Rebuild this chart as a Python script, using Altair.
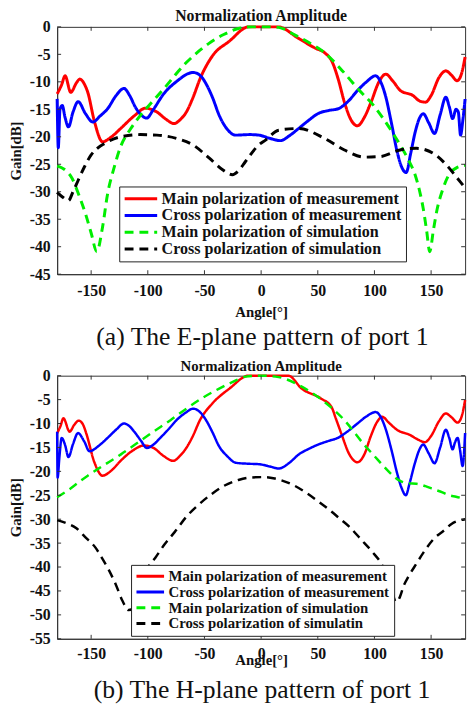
import altair as alt
import pandas as pd

# ---------------- E-plane pattern (port 1) ----------------
e_main_meas_ang = [-180, -176, -173, -168, -163, -160, -156, -153, -147, -140, -132, -124, -112, -102,
                   -92, -84, -77, -71, -66, -60, -54, -43, -28, -11, 15, 33, 48, 56, 63, 68, 73.5,
                   79, 85, 91, 97, 104, 110, 116, 123, 134, 140, 145, 150, 157, 163, 168, 173, 177, 180]
e_main_meas_val = [-12.2, -10.5, -8.9, -11.9, -10.2, -9.5, -10.4, -11.9, -17.3, -20.9, -20.0, -18.5,
                   -16.2, -14.8, -15.5, -16.8, -17.6, -16.8, -15.5, -12.8, -9.5, -5.3, -2.6, 0, 0,
                   -2.1, -3.9, -4.7, -6.5, -9.5, -13.7, -16.8, -18.0, -16.5, -13.7, -10.0, -8.6, -9.8,
                   -11.6, -12.5, -13.5, -13.7, -12.5, -9.2, -8.0, -8.8, -9.8, -8.4, -5.5]

e_cross_meas_ang = [-180, -179, -177.5, -175.5, -173, -170, -166, -161.5, -155, -148.5, -142, -135.5,
                    -128, -121, -116, -111, -106, -101, -95, -86, -75, -60, -53, -48.5, -43, -37, -30,
                    -22.5, -10, -2, 8, 17, 25, 33, 42, 50, 60, 68, 77, 85, 93, 101, 105, 109.7, 115,
                    120, 124, 128, 132, 136, 140, 143, 148, 153, 158, 163, 166, 169, 172, 174, 176,
                    178, 180]
e_cross_meas_val = [-13.1, -22.0, -15.0, -14.3, -16.5, -18.2, -15.5, -13.6, -15.8, -17.3, -16.2, -14.9,
                    -12.5, -11.2, -12.5, -14.6, -16.0, -16.6, -15.0, -12.2, -10.0, -8.3, -9.0, -10.4,
                    -12.8, -16.1, -18.6, -19.7, -19.6, -19.7, -20.3, -20.7, -19.8, -18.5, -17.0, -15.8,
                    -15.2, -14.9, -13.5, -11.6, -10.0, -8.9, -9.8, -12.5, -17.5, -22.7, -25.5, -26.5,
                    -23.0, -19.1, -16.5, -15.8, -17.5, -19.4, -16.0, -12.8, -14.5, -16.7, -15.0, -15.5,
                    -19.7, -17.0, -13.1]

e_main_sim_ang = [-180, -172, -167, -161, -155, -150, -145, -140, -135.5, -130, -124, -115, -106.5,
                  -96, -86, -76, -66, -56, -46, -33, -20, -8, 8, 15.5, 30, 45, 56, 70, 86, 100, 113,
                  122.7, 130, 136, 140, 143, 146, 148.8, 152, 155, 160.4, 166, 172, 180]
e_main_sim_val = [-25.3, -26.2, -27.5, -30.5, -34.0, -37.5, -40.9, -36.5, -30.4, -25.8, -21.8, -18.5,
                  -16.1, -13.6, -11.3, -8.8, -6.5, -4.6, -3.0, -1.4, -0.3, 0, 0, -0.1, -1.5, -3.2,
                  -4.7, -7.6, -11.4, -14.5, -18.3, -21.5, -24.2, -27.0, -30.0, -33.0, -37.0, -40.9,
                  -37.0, -33.5, -29.5, -26.8, -25.7, -25.2]

e_cross_sim_ang = [-180, -175, -170, -166, -161.6, -156, -150, -144, -138, -124, -106.5, -92, -74.7,
                   -60, -45.7, -34, -25.4, -20, -13.8, -2.2, 3.9, 15.5, 33, 56, 73.5, 90.8, 105,
                   122.7, 137, 151.7, 166, 173, 180]
e_cross_sim_val = [-30.1, -31.0, -31.6, -30.0, -28.0, -25.5, -23.3, -22.0, -21.2, -20.0, -19.6, -19.7,
                   -20.3, -21.5, -23.9, -26.0, -26.9, -26.2, -24.5, -21.5, -20.6, -18.8, -18.5, -20.3,
                   -22.4, -23.7, -23.6, -22.4, -22.1, -23.0, -25.7, -27.5, -29.3]

# ---------------- H-plane pattern (port 1) ----------------
h_main_meas_ang = [-180, -177, -174.5, -169, -165, -161, -157, -154.4, -147, -140, -132, -124, -113,
                   -103.6, -95, -86, -77.6, -71, -66, -60, -54, -43, -28, -11, 24, 35.8, 53, 62, 66,
                   70.6, 78, 85, 91, 96.7, 102, 106.8, 113, 119.8, 131.4, 138, 144.5, 150, 157, 163,
                   168, 173.4, 177, 180]
h_main_meas_val = [-12.0, -10.5, -8.9, -11.7, -10.3, -9.4, -10.3, -12.0, -18.2, -20.9, -19.8, -17.8,
                   -15.6, -14.6, -15.1, -16.8, -17.8, -16.6, -15.1, -12.5, -9.3, -5.8, -2.7, 0, 0,
                   -2.7, -4.8, -6.5, -9.0, -12.0, -16.5, -18.1, -16.5, -12.7, -9.8, -8.6, -9.9, -11.3,
                   -12.4, -13.3, -13.9, -12.6, -9.5, -7.9, -8.7, -9.8, -8.5, -5.1]

h_cross_meas_ang = [-180, -179.6, -178, -176, -173, -170, -166, -161.6, -156, -151.5, -143, -135.5,
                    -128, -121, -116, -112, -106, -101, -95, -89, -81, -74.7, -67, -60, -54, -48.6,
                    -43, -37, -30, -22.5, -12, -2, 8, 15.5, 25, 33, 42, 50.3, 60, 67.7, 76, 85, 93,
                    101, 105.5, 109.7, 115, 119.8, 124, 127.7, 131, 135.8, 140, 143, 148, 153, 158,
                    163, 166, 169, 171, 173.4, 175.5, 177.8, 180]
h_cross_meas_val = [-11.7, -21.3, -17.0, -13.0, -14.5, -17.0, -14.3, -12.0, -13.8, -15.8, -14.6, -13.0,
                    -11.3, -10.0, -10.6, -11.7, -13.6, -15.1, -14.4, -13.0, -11.0, -9.3, -7.8, -6.9,
                    -7.6, -9.3, -11.8, -14.8, -16.8, -18.2, -18.4, -18.5, -19.0, -19.4, -18.2, -16.5,
                    -15.3, -14.4, -13.6, -13.0, -11.7, -10.0, -8.5, -7.6, -8.6, -11.0, -15.5, -20.2,
                    -23.5, -25.0, -22.5, -18.2, -15.3, -14.4, -16.3, -18.3, -15.0, -11.3, -13.0, -15.4,
                    -14.0, -13.0, -15.5, -18.9, -12.0]

h_main_sim_ang = [-180, -170, -160, -153, -140, -124, -110, -95, -80, -66, -50, -37, -25, -13.8, 0,
                  15.5, 35, 56, 73.5, 90.8, 100, 108, 115, 122.7, 130, 137, 145, 151.7, 160, 166,
                  172, 180]
h_main_sim_val = [-25.4, -23.9, -22.1, -20.9, -18.9, -16.5, -14.2, -11.7, -9.3, -6.9, -4.4, -2.7,
                  -1.3, -0.2, 0, -0.3, -2.2, -5.5, -9.3, -14.4, -16.8, -18.9, -20.6, -22.0, -22.5,
                  -22.6, -23.1, -23.7, -24.4, -25.0, -25.3, -25.8]

h_cross_sim_ang = [-180, -172, -163, -155, -146, -140, -134, -128, -122.5, -117, -112, -106, -100,
                   -93.5, -85, -76, -66, -55.8, -44, -32.6, -20, -9.7, 3, 12, 27, 40, 50, 60, 70,
                   77.5, 88, 98, 106.5, 112, 116, 119, 122, 126, 130, 137, 144, 152, 161.6, 168, 176,
                   180]
h_cross_sim_val = [-30.2, -30.8, -31.9, -33.8, -36.0, -38.3, -40.8, -43.8, -47.0, -49.0, -48.5, -44.5,
                   -40.2, -38.1, -35.2, -32.6, -29.5, -27.1, -24.8, -23.0, -21.8, -21.3, -21.2, -21.5,
                   -22.7, -24.5, -26.2, -28.0, -30.0, -31.5, -34.2, -36.8, -39.5, -42.5, -45.5, -47.3,
                   -46.5, -43.8, -42.0, -39.3, -36.7, -34.2, -32.3, -31.0, -30.2, -30.0]

e_names = ["Main polarization of measurement", "Cross polarization of measurement",
           "Main polarization of simulation", "Cross polarization of simulation"]
h_names = ["Main polarization of measurement", "\u00a0Cross polarization of measurement",
           "Main polarization of simulation", "Cross polarization of simulatin"]

x_ticks = [-150, -100, -50, 0, 50, 100, 150]
e_y_ticks = [0, -5, -10, -15, -20, -25, -30, -35, -40, -45]
h_y_ticks = [0, -5, -10, -15, -20, -25, -30, -35, -40, -45, -50, -55]

colors = ["#ff0000", "#0000ff", "#00ee00", "#000000"]
dashes = [[1, 0], [1, 0], [9, 6], [9, 6]]

SERIF = "Liberation Serif"
W = 414
MINUS = "datum.value < 0 ? '-' + abs(datum.value) : '' + datum.value"


def frame(names, series):
    rows = []
    for name, (ang, val) in zip(names, series):
        for a, v in zip(ang, val):
            rows.append({"series": name, "angle": a, "gain": v})
    return pd.DataFrame(rows)


def panel(names, series, y_ticks, y_min, height, legend_x, legend_y, font_size,
          stroke_w, symbol_w, clip_h, title_size, title_off, x_label_pad, x_title_pad):
    data = frame(names, series)
    xs = alt.Scale(domain=[-180, 180], nice=False, zero=False)
    ys = alt.Scale(domain=[y_min, 0], nice=False, zero=False)
    # one axis definition per direction, shared by every layer so they merge cleanly
    x_axis = alt.Axis(values=x_ticks, title="Angle[°]", ticks=False, grid=False, labelExpr=MINUS,
                      labelOverlap=False, labelPadding=x_label_pad, titlePadding=x_title_pad)
    y_axis = alt.Axis(values=y_ticks, title="Gain[dB]", ticks=False, grid=False, labelExpr=MINUS,
                      labelOverlap=False, labelPadding=7, titlePadding=6)
    legend = alt.Legend(
        title=None, orient="none", legendX=legend_x, legendY=legend_y, direction="vertical",
        fillColor="white", strokeColor="#222", padding=4, cornerRadius=0,
        labelFont=SERIF, labelFontWeight="bold", labelFontSize=font_size, labelColor="#111",
        labelLimit=500, labelOffset=3, symbolType="stroke", symbolSize=symbol_w * symbol_w,
        symbolStrokeWidth=3, clipHeight=clip_h, rowPadding=0,
    )
    lines = alt.Chart(data).mark_line(strokeWidth=stroke_w, interpolate="monotone").encode(
        x=alt.X("angle:Q", scale=xs, axis=x_axis, title="Angle[°]"),
        y=alt.Y("gain:Q", scale=ys, axis=y_axis, title="Gain[dB]"),
        color=alt.Color("series:N", scale=alt.Scale(domain=names, range=colors), legend=legend),
        strokeDash=alt.StrokeDash("series:N", scale=alt.Scale(domain=names, range=dashes),
                                  legend=legend),
    )
    # inward tick marks on all four sides of the frame
    xt = pd.DataFrame({"t": x_ticks})
    yt = pd.DataFrame({"t": y_ticks})
    tick = dict(color="#333", strokeWidth=1)
    tx_enc = alt.X("t:Q", scale=xs, axis=x_axis, title="Angle[°]")
    ty_enc = alt.Y("t:Q", scale=ys, axis=y_axis, title="Gain[dB]")
    bx = alt.Chart(xt).mark_rule(**tick).encode(x=tx_enc, y=alt.value(height), y2=alt.value(height - 4))
    tx = alt.Chart(xt).mark_rule(**tick).encode(x=tx_enc, y=alt.value(0), y2=alt.value(4))
    ly = alt.Chart(yt).mark_rule(**tick).encode(y=ty_enc, x=alt.value(0), x2=alt.value(4))
    ry = alt.Chart(yt).mark_rule(**tick).encode(y=ty_enc, x=alt.value(W), x2=alt.value(W - 4))
    return alt.layer(lines, bx, tx, ly, ry).properties(
        width=W, height=height,
        title=alt.TitleParams("Normalization Amplitude", font=SERIF, fontWeight="bold",
                              fontSize=title_size, anchor="middle", offset=title_off,
                              color="#111"),
    )


def captioned(chart, text, dx, offset):
    return alt.vconcat(chart, title=alt.TitleParams(
        text, orient="bottom", anchor="middle", font=SERIF, fontWeight="normal",
        fontSize=26, color="#111", offset=offset, dx=dx))


top = panel(e_names,
            [(e_main_meas_ang, e_main_meas_val), (e_cross_meas_ang, e_cross_meas_val),
             (e_main_sim_ang, e_main_sim_val), (e_cross_sim_ang, e_cross_sim_val)],
            e_y_ticks, -45, 251, 63, 162, 16.3, 3, 33, 17, 16, -5, 9, 6)
bottom = panel(h_names,
               [(h_main_meas_ang, h_main_meas_val), (h_cross_meas_ang, h_cross_meas_val),
                (h_main_sim_ang, h_main_sim_val), (h_cross_sim_ang, h_cross_sim_val)],
               h_y_ticks, -55, 267, 75, 192, 15, 2.5, 28, 15, 15, -6, 7, -9)

chart = alt.vconcat(
    captioned(top, "(a) The E-plane pattern of port 1", 23, 4),
    captioned(bottom, "(b) The H-plane pattern of port 1", 23, 10),
    spacing=8,
).resolve_scale(color="independent", strokeDash="independent").resolve_legend(
    color="independent", strokeDash="independent"
).properties(
    padding={"left": 8, "top": 2, "right": 0, "bottom": 0}, background="white"
).configure_view(
    stroke="#333", strokeWidth=1
).configure_axis(
    labelFont=SERIF, labelFontWeight="bold", labelFontSize=16, labelColor="#111",
    labelOverlap=False, labelFlush=False,
    titleFont=SERIF, titleFontWeight="bold", titleFontSize=15, titleColor="#111",
    domainColor="#333", domainWidth=1,
)

chart.save("out.html", embed_options={"renderer": "svg", "actions": False})
